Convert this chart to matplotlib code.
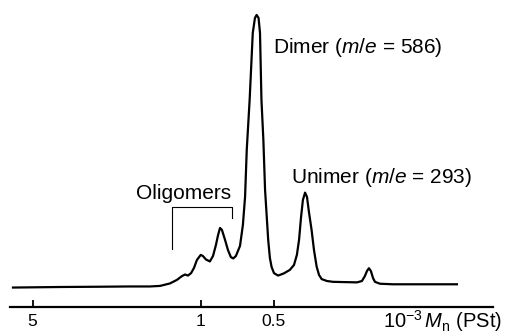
import numpy as np
import matplotlib
matplotlib.use("Agg")
from matplotlib import pyplot as plt

plt.rcParams["font.family"] = ["Liberation Sans", "DejaVu Sans"]
plt.rcParams["mathtext.fontset"] = "custom"
plt.rcParams["mathtext.rm"] = "Liberation Sans"
plt.rcParams["mathtext.it"] = "Liberation Sans:italic"

# trace: log10(10^-3 Mn) and detector signal (dimer peak = 100)
log_mn = [0.780, 0.585, 0.419, 0.295, 0.212, 0.170, 0.129, 0.100, 0.079, 0.066,
          0.054, 0.041, 0.029, 0.017, 0.001, -0.008, -0.021, -0.037, -0.050, -0.062,
          -0.071, -0.079, -0.087, -0.100, -0.112, -0.124, -0.134, -0.145, -0.162, -0.174,
          -0.183, -0.190, -0.202, -0.215, -0.224, -0.231, -0.239, -0.245, -0.251, -0.259,
          -0.266, -0.279, -0.286, -0.293, -0.303, -0.320, -0.344, -0.369, -0.386, -0.398,
          -0.407, -0.415, -0.423, -0.432, -0.440, -0.448, -0.459, -0.469, -0.480, -0.490,
          -0.501, -0.523, -0.548, -0.598, -0.647, -0.668, -0.680, -0.689, -0.697, -0.705,
          -0.714, -0.722, -0.743, -0.797, -0.909, -1.062]
signal = [-0.2, 0.0, 0.1, 0.2, 0.2, 0.4, 1.3, 2.6, 4.0, 4.6,
          4.2, 5.1, 7.0, 9.9, 11.8, 11.4, 10.1, 9.4, 11.4, 15.4,
          19.1, 21.7, 21.0, 17.3, 13.6, 11.0, 10.5, 11.4, 15.1, 22.8,
          33.1, 50.4, 68.8, 93.4, 98.9, 100.0, 98.9, 93.4, 68.8, 54.0,
          35.7, 17.3, 10.7, 7.4, 5.1, 4.2, 5.0, 6.3, 8.1, 11.8,
          17.3, 25.4, 32.0, 34.7, 33.1, 27.6, 21.0, 13.6, 7.5, 4.4,
          2.9, 2.2, 1.9, 1.8, 1.7, 2.2, 4.0, 5.9, 6.9, 5.9,
          3.3, 1.9, 1.2, 1.0, 1.0, 1.0]

tick_values = [5, 1, 0.5]
tick_labels = ["5", "1", "0.5"]

# oligomer bracket (log10 Mn, signal)
bracket_x = [0.122, 0.122, -0.127, -0.127]
bracket_y = [13.9, 29.5, 29.5, 25.3]

W, H = 506, 336
fig = plt.figure(figsize=(W / 100, H / 100), dpi=100)
ax = fig.add_axes([10 / W, 29 / H, 483 / W, 307 / H])

mn = 10 ** np.array(log_mn)
ax.plot(mn, signal, color="black", linewidth=1.6, solid_joinstyle="round")
ax.plot(10 ** np.array(bracket_x), bracket_y, color="black", linewidth=0.8)

ax.set_xscale("log")
ax.set_xlim(6.20, 0.0614)
ax.set_ylim(-7.35, 105.5)

for side in ["top", "right", "left"]:
    ax.spines[side].set_visible(False)
ax.spines["bottom"].set_linewidth(1.6)
ax.set_yticks([])
ax.xaxis.set_minor_locator(matplotlib.ticker.NullLocator())
ax.set_xticks(tick_values)
ax.set_xticklabels(tick_labels)
ax.tick_params(axis="x", direction="in", length=5, width=1.3, labelsize=12.5, pad=5)

def put(x, y, s, size=15):
    fig.text(x / W, 1 - y / H, s, fontsize=size, ha="left", va="baseline")

put(273, 53.3, r"Dimer ($m/e$ = 586)")
put(291.5, 183.3, r"Unimer ($m/e$ = 293)")
put(136.5, 199.3, "Oligomers")
put(383, 327.5, r"$10^{-3}\,M_\mathrm{n}$ (PSt)", size=14.5)

fig.savefig("out.png", dpi=100)
